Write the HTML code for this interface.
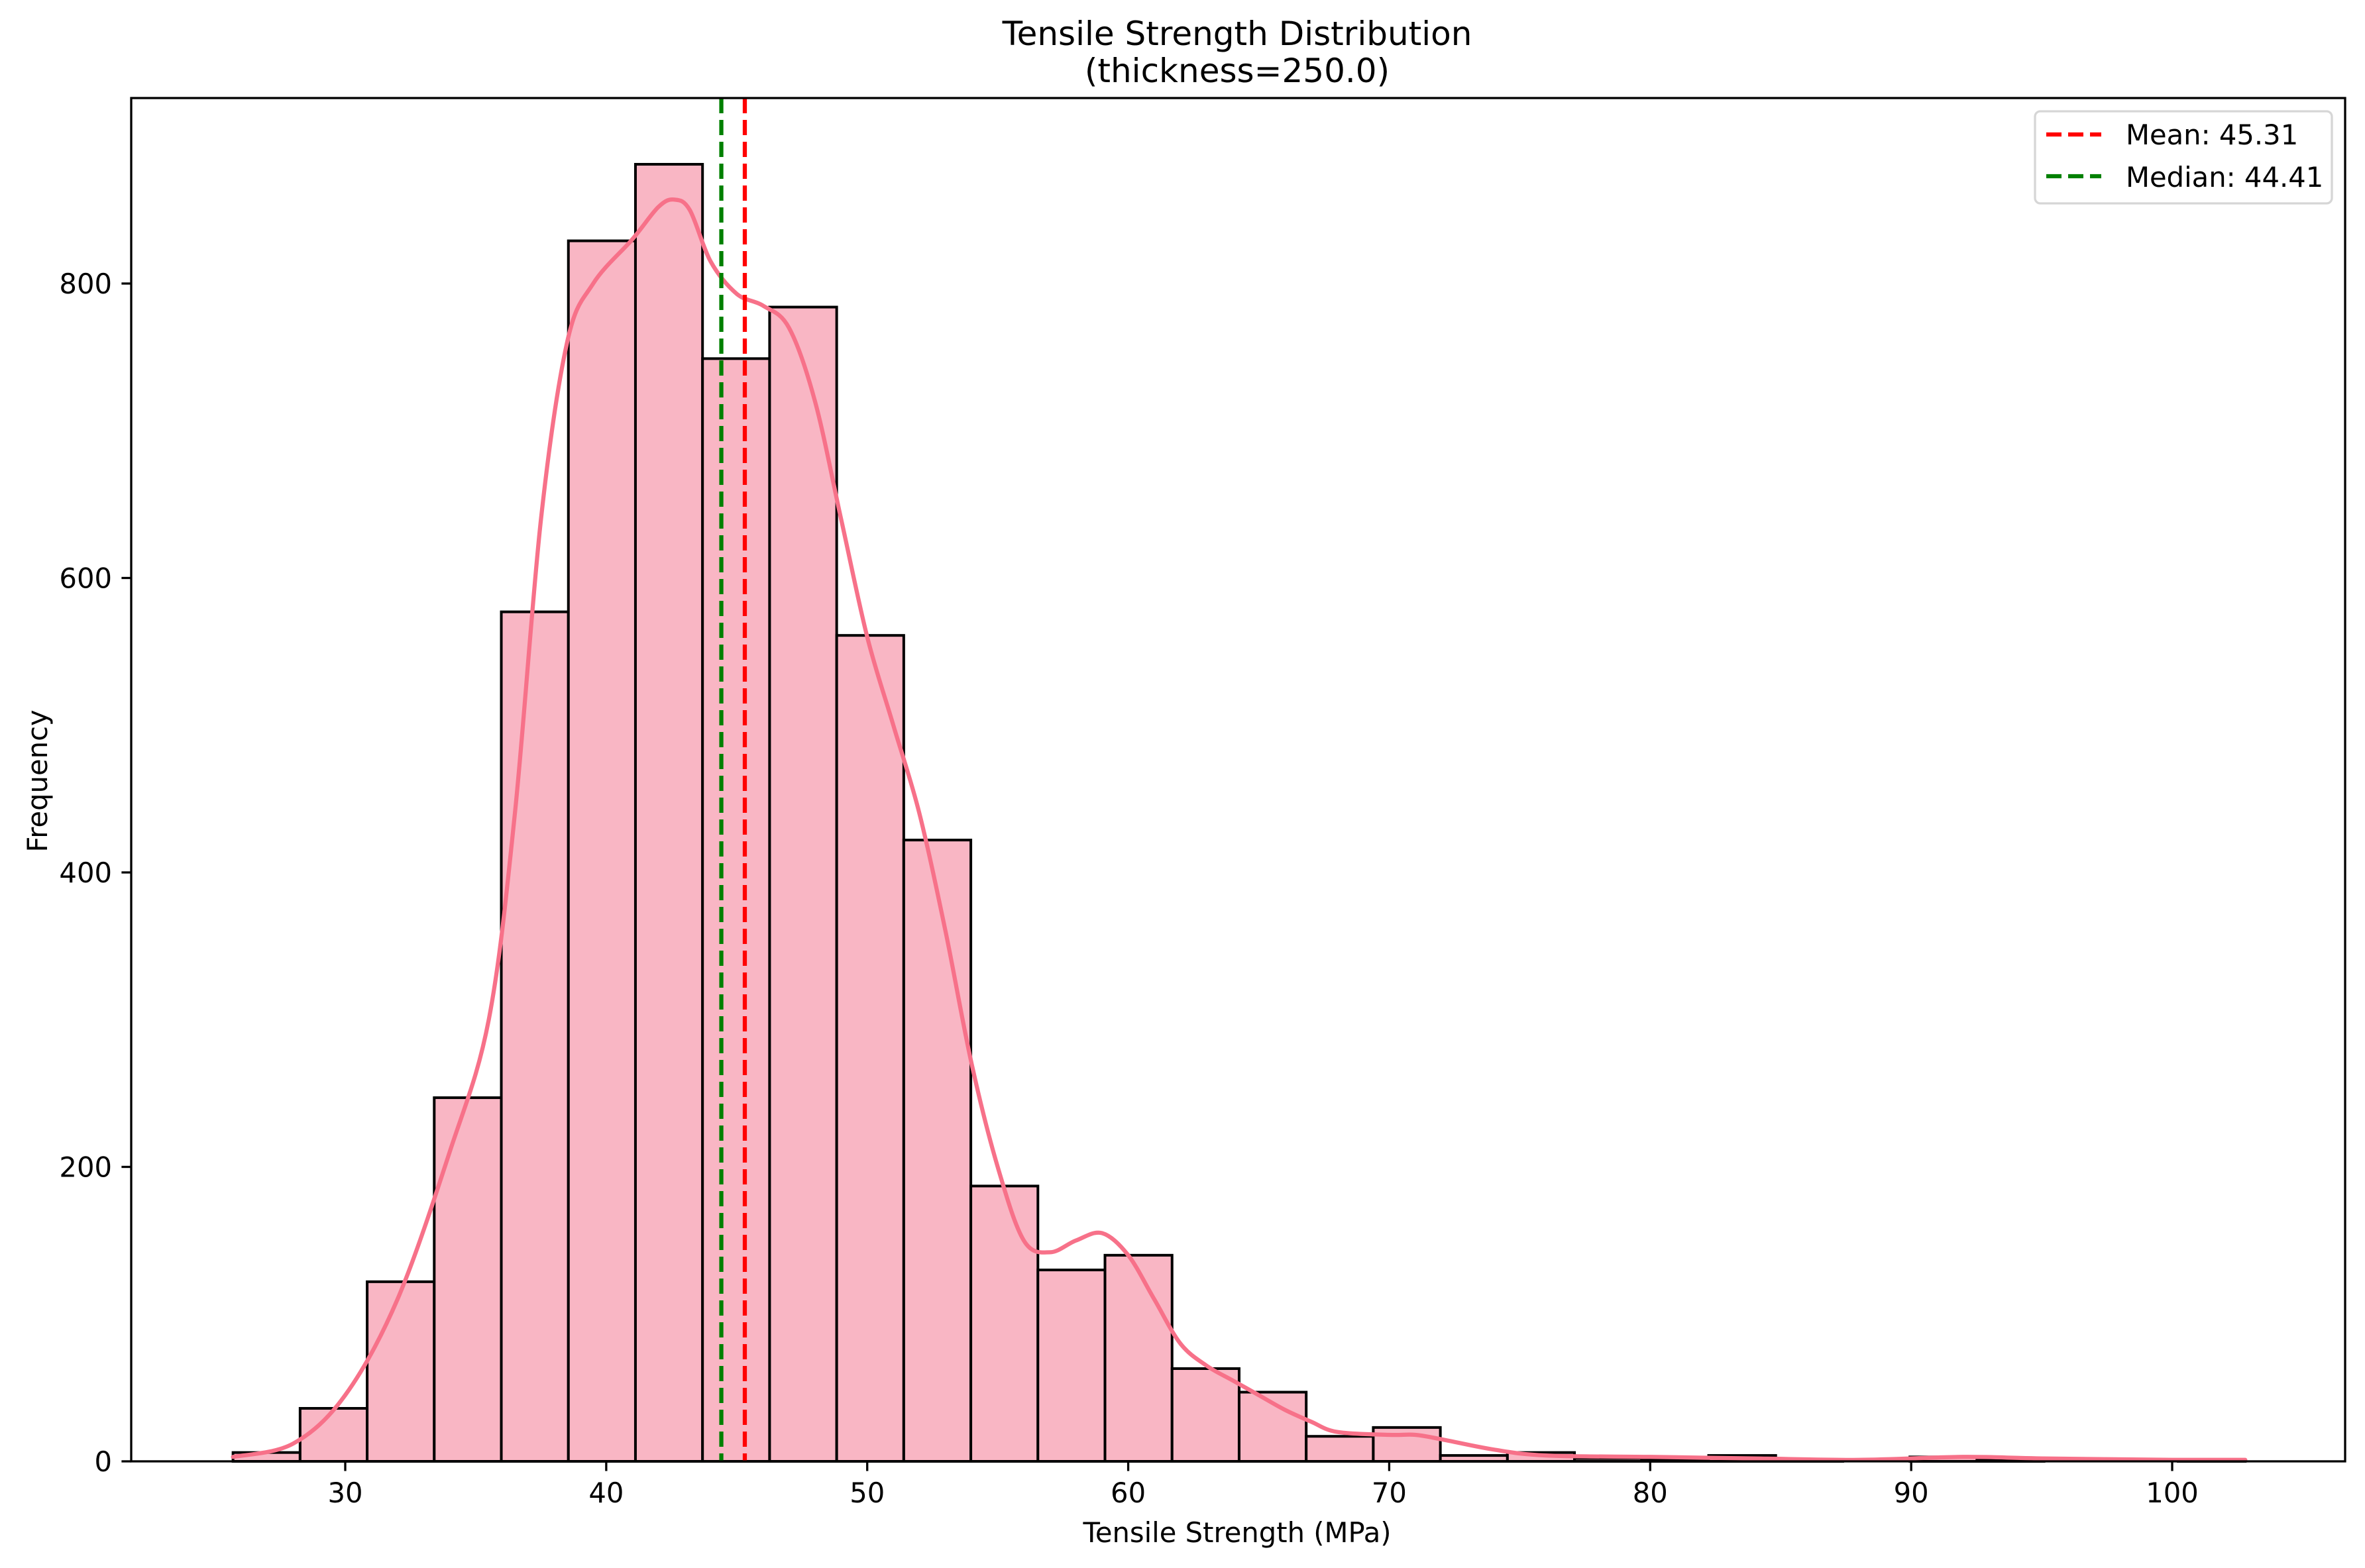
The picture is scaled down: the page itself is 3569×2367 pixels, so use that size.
<!DOCTYPE html>
<html><head><meta charset="utf-8"><style>
html,body{margin:0;padding:0;background:#fff;}
svg{display:block;font-family:"DejaVu Sans","Liberation Sans",sans-serif;}
</style></head><body>
<svg id="chart" width="3569" height="2367" viewBox="0 0 3569 2367">
<rect x="0" y="0" width="3569" height="2367" fill="#fff"/>
<g id="plot"></g>
<text x="1867" y="68" font-size="50" text-anchor="middle">Tensile Strength Distribution</text>
<text x="1867" y="124" font-size="50" text-anchor="middle">(thickness=250.0)</text>
<text x="1867" y="2328" font-size="41.7" text-anchor="middle">Tensile Strength (MPa)</text>
<text x="71" y="1179" font-size="41.7" text-anchor="middle" transform="rotate(-90 71 1179)">Frequency</text>
<g>
<rect x="3071" y="168" width="448" height="139" rx="8" fill="#fff" fill-opacity="0.8" stroke="#d6d6d6" stroke-width="3.3"/>
<line x1="3088" x2="3171" y1="203" y2="203" stroke="#ff0000" stroke-width="6.25" stroke-dasharray="23,10"/>
<text x="3208" y="218" font-size="41.7">Mean: 45.31</text>
<line x1="3088" x2="3171" y1="266" y2="266" stroke="#008000" stroke-width="6.25" stroke-dasharray="23,10"/>
<text x="3208" y="282" font-size="41.7">Median: 44.41</text>
</g>
</svg>
<script>
const binEdgesStart = 25.7;
const binWidth = 2.57;
const binCounts = [6,36,122,247,577,829,881,749,784,561,422,187,130,140,63,47,17,23,4,6,2,1,4,1,0,3,1,0,0,1];
const kdeX = [25.7,28,30,32,34,35.5,36.5,37.5,38.5,39.5,41,42,42.6,43.2,44,45,46,47,48,49,50,51,52,53,54,55,56,57,58,59,60,61,62,63,64,65,66,67,68,70,71,72,74,76,80,84,88,92,95,100,102.8];
const kdeY = [3,12,45,110,210,300,440,640,760,800,830,852,857,850,815,793,785,770,720,640,560,500,440,360,270,200,150,142,150,155,140,110,80,65,55,45,35,27,20,18,18,15,8,4,3,2,1,3,2,1,1];
const xTicks = [30,40,50,60,70,80,90,100];
const yTicks = [0,200,400,600,800];
const meanVal = 45.31;
const medianVal = 44.41;

const L=198,R=3539,T=148,B=2206;
const X0=521, XS=(3278-521)/70;
function sx(v){return X0+(v-30)*XS;}
function sy(v){return B-v*(B-428)/800;}
const NS="http://www.w3.org/2000/svg";
const g=document.getElementById('plot');
function el(tag,attrs,parent){const e=document.createElementNS(NS,tag);for(const k in attrs)e.setAttribute(k,attrs[k]);(parent||g).appendChild(e);return e;}

binCounts.forEach((c,i)=>{
  const x0=sx(binEdgesStart+i*binWidth), x1=sx(binEdgesStart+(i+1)*binWidth);
  const r=el('rect',{x:x0,y:sy(c),width:x1-x0,height:B-sy(c),fill:'#f9b6c4',stroke:'#000','stroke-width':4});
  
  
});
// smooth KDE via Catmull-Rom
const pts=kdeX.map((x,i)=>[sx(x),sy(kdeY[i])]);
let d='M'+pts[0][0].toFixed(1)+','+pts[0][1].toFixed(1);
for(let i=0;i<pts.length-1;i++){
  const p0=pts[Math.max(0,i-1)],p1=pts[i],p2=pts[i+1],p3=pts[Math.min(pts.length-1,i+2)];
  const c1=[p1[0]+(p2[0]-p0[0])/6,p1[1]+(p2[1]-p0[1])/6];
  const c2=[p2[0]-(p3[0]-p1[0])/6,p2[1]-(p3[1]-p1[1])/6];
  d+='C'+c1[0].toFixed(1)+','+c1[1].toFixed(1)+' '+c2[0].toFixed(1)+','+c2[1].toFixed(1)+' '+p2[0].toFixed(1)+','+p2[1].toFixed(1);
}
const kp=el('path',{d:d,fill:'none',stroke:'#f77189','stroke-width':6.25,'stroke-linejoin':'round','stroke-linecap':'round'});


const ml=el('line',{x1:sx(meanVal),x2:sx(meanVal),y1:T,y2:B,stroke:'#ff0000','stroke-width':6.25,'stroke-dasharray':'23,10'});


const md=el('line',{x1:sx(medianVal),x2:sx(medianVal),y1:T,y2:B,stroke:'#008000','stroke-width':6.25,'stroke-dasharray':'23,10'});


const fr=el('rect',{x:L,y:T,width:R-L,height:B-T,fill:'none',stroke:'#000','stroke-width':3.3});


xTicks.forEach(v=>{
  el('line',{x1:sx(v),x2:sx(v),y1:B,y2:B+14.6,stroke:'#000','stroke-width':3.3});
  const t=el('text',{x:sx(v),y:2268,'font-size':41.7,'text-anchor':'middle'});
  t.textContent=v;
  
  
});
yTicks.forEach(v=>{
  el('line',{x1:L-14.6,x2:L,y1:sy(v),y2:sy(v),stroke:'#000','stroke-width':3.3});
  const t=el('text',{x:L-29,y:sy(v)+15,'font-size':41.7,'text-anchor':'end'});
  t.textContent=v;
  
  
});
</script>
</body></html>
